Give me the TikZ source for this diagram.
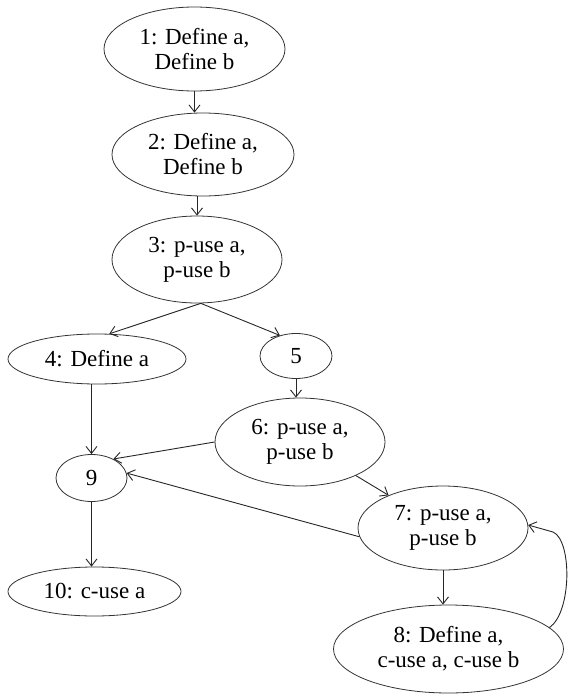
\documentclass[tikz,border=0pt]{standalone}
\usepackage{fontspec}
\setmainfont{Liberation Serif}
\usetikzlibrary{shapes.geometric,arrows.meta}
\tikzset{
  blob/.style={ellipse, draw=black!80, line width=0.8pt, inner sep=0pt, align=center, font=\fontsize{23}{25}\selectfont},
  link/.style={draw=black!85, line width=0.9pt, -{Straight Barb[length=7pt,width=11pt]}}
}
\begin{document}
\begin{tikzpicture}[x=1pt,y=-1pt]
\useasboundingbox (0,0) rectangle (569,696);
\node[blob, minimum width=181pt, minimum height=84pt] (n1) at (194.5,49) {1: Define a,\\Define b};
\node[blob, minimum width=182pt, minimum height=83pt] (n2) at (203,154.5) {2: Define a,\\Define b};
\node[blob, minimum width=170pt, minimum height=87pt] (n3) at (197,259.5) {3: p-use a,\\p-use b};
\node[blob, minimum width=178pt, minimum height=50pt] (n4) at (97,359) {4: Define a};
\node[blob, minimum width=72pt, minimum height=45pt] (n5) at (296,356) {5};
\node[blob, minimum width=170pt, minimum height=88pt] (n6) at (300,442) {6: p-use a,\\p-use b};
\node[blob, minimum width=71pt, minimum height=47pt] (n9) at (91.5,478) {9};
\node[blob, minimum width=170pt, minimum height=84pt] (n7) at (443,528) {7: p-use a,\\p-use b};
\node[blob, minimum width=173pt, minimum height=49pt] (n10) at (94.5,591.5) {10: c-use a};
\node[blob, minimum width=230pt, minimum height=88pt] (n8) at (448.5,649) {8: Define a,\\c-use a, c-use b};
\coordinate (c) at (553,532);

\draw[link] (n1.south) -- (n1.south |- n2.north);
\draw[link] (n2.south -| n3.north) -- (n3.north);
\draw[link] (n3.-85) -- (n4.64);
\draw[link] (n3.-85) -- (n5.128);
\draw[link] (n5.south) -- (n5.south |- n6.north);
\draw[link] (n9.north |- n4.south) -- (n9.north);
\draw[link] (n6.west) -- (n9.41);
\draw[link] (n6.-31) -- (n7.149);
\draw[link] (n7.186) -- (n9.8);
\draw[link] (n9.south) -- (n9.south |- n10.north);
\draw[link] (n7.south) -- (n7.south |- n8.north);
\draw[link] (n8.12) .. controls (572,612) and (572,540) .. (c) -- (n7.2);
\end{tikzpicture}
\end{document}
